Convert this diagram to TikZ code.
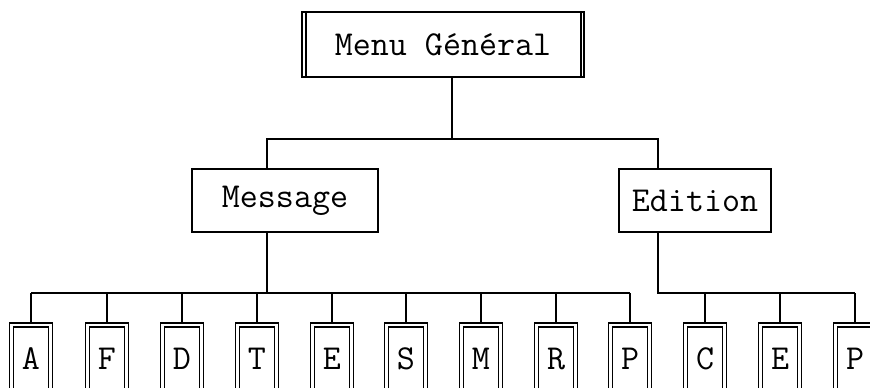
\documentclass[tikz,border=0pt]{standalone}
\usepackage{tikz}

\begin{document}
\begin{tikzpicture}[x=0.4pt,y=-0.4pt,line width=0.8pt]
	\tikzset{box/.style={draw,inner sep=0pt,font=\ttfamily\fontsize{14}{16}\selectfont},
		leaf/.style={box,double,line width=0.7pt,double distance=0.9pt,outer sep=1.15pt,
			minimum width=15.6pt,minimum height=27.2pt}}
	\useasboundingbox (0,0) rectangle (870,387);
	\clip (0,0) rectangle (870,387);

	\node[box,minimum width=112.8pt,minimum height=26pt] (menu) at (443,44.5) {Menu Général};
	\draw ([xshift=2pt]menu.north west) -- ([xshift=2pt]menu.south west);
	\draw ([xshift=-1.8pt]menu.north east) -- ([xshift=-1.8pt]menu.south east);

	\node[box,minimum width=74.4pt,minimum height=25.2pt] (message) at (285,200.5) {Message};
	\node[box,minimum width=60.8pt,minimum height=25.2pt] (edition) at (695,200.5) {Edition};

	\coordinate (top) at (452,139);
	\coordinate (mtop) at (267,139);
	\coordinate (etop) at (658,139);
	\draw (menu.south -| top) -- (top);
	\draw (message.north -| mtop) -- (mtop) -- (etop) -- (edition.north -| etop);

	% feuilles du menu Message
	\coordinate (mbus) at (267,293);
	\foreach \l/\x [count=\i] in {A/31,F/107,D/182,T/257,E/332,S/406,M/481,R/556,P/630}
		\node[leaf] (msg\i) at (\x,359) {\l};
	\draw (message.south -| mbus) -- (mbus);
	\draw (msg1.north |- mbus) -- (msg9.north |- mbus);
	\foreach \i in {1,...,9}
		\draw (msg\i.north |- mbus) -- (msg\i.north);

	% feuilles du menu Edition
	\coordinate (ebus) at (658,293);
	\foreach \l/\x [count=\i] in {C/705,E/780,P/855}
		\node[leaf] (edi\i) at (\x,359) {\l};
	\draw (edition.south -| ebus) -- (ebus) -- (edi3.north |- ebus);
	\foreach \i in {1,...,3}
		\draw (edi\i.north |- ebus) -- (edi\i.north);
\end{tikzpicture}
\end{document}
